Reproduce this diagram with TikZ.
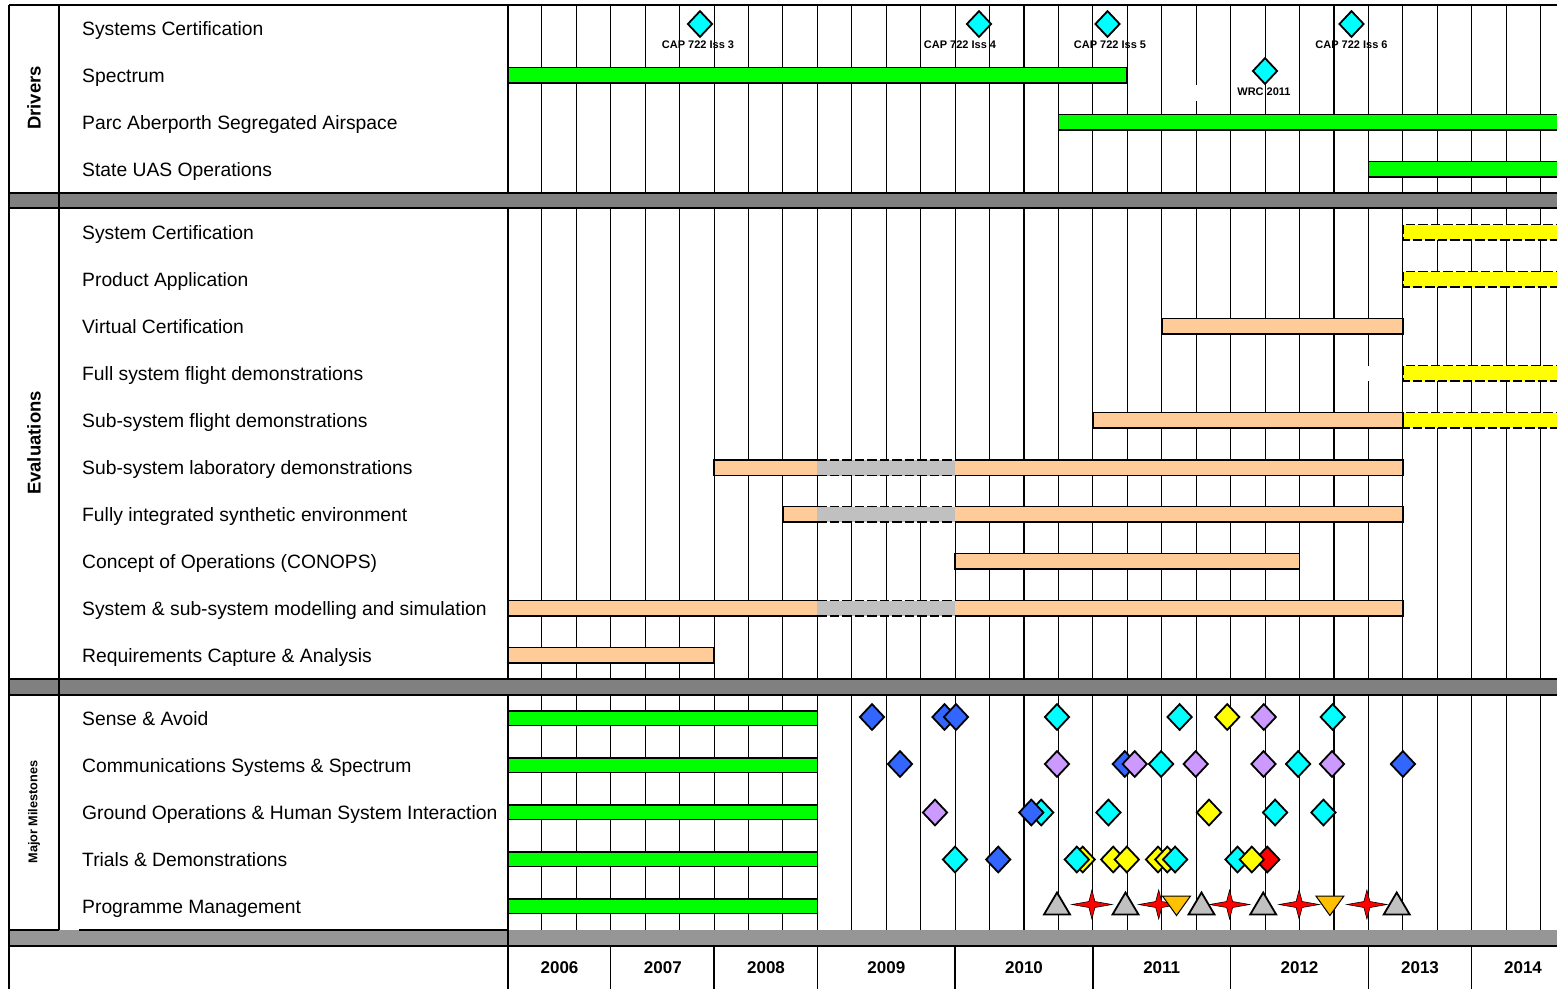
\documentclass[tikz,border=0pt]{standalone}
\usepackage{fontspec}
\setmainfont{Liberation Sans}
\usetikzlibrary{shapes.geometric}
\definecolor{bargreen}{RGB}{0,255,0}
\definecolor{barpeach}{RGB}{255,204,153}
\definecolor{bargrey}{RGB}{192,192,192}
\definecolor{bandgrey}{RGB}{128,128,128}
\definecolor{bandlight}{RGB}{150,150,150}
\definecolor{mscyan}{RGB}{0,255,255}
\definecolor{msblue}{RGB}{51,102,255}
\definecolor{mspurple}{RGB}{204,153,255}
\definecolor{msyellow}{RGB}{255,255,0}
\definecolor{msred}{RGB}{255,0,0}
\definecolor{msorange}{RGB}{255,192,0}

\begin{document}
\begin{tikzpicture}[x=1pt,y=-1pt,
  frame/.style={line width=2pt},
  gridln/.style={line width=1.1pt},
  barline/.style={line width=1.8pt},
  dashedge/.style={line width=1.8pt,dash pattern=on 9.5pt off 3pt},
  rowtext/.style={anchor=base west,inner sep=0pt,font=\fontsize{19.3}{22}\selectfont},
  cattext/.style={rotate=90,inner sep=0pt,font=\bfseries\fontsize{18.5}{20}\selectfont},
  yeartext/.style={inner sep=0pt,font=\bfseries\fontsize{17}{19}\selectfont},
  mstext/.style={inner sep=0pt,font=\bfseries\fontsize{11}{12}\selectfont},
  msd/.style={diamond,draw=black,line width=1.8pt,inner sep=0pt,minimum width=25pt,minimum height=26.5pt}]
\useasboundingbox (0,0) rectangle (1557,989);

\foreach \k in {0,...,30} \draw[gridln] ({507.4+34.44*\k},5) -- ({507.4+34.44*\k},930);
\draw[white,line width=8pt] (1196.2,85) -- (1196.2,101);

\fill[bandgrey] (9,193) rectangle (1560,208); \fill[bandgrey] (9,679) rectangle (1560,695); \fill[bandlight] (9,930) rectangle (1560,946);
\draw[frame] (9,193) -- (1560,193) (9,208) -- (1560,208) (9,679) -- (1560,679) (9,695) -- (1560,695);
\draw[frame] (9,946) -- (1560,946) (9,930) -- (59,930) (79,930) -- (508,930);
\draw[frame] (9,5) -- (1560,5) (9,5) -- (9,989) (59,5) -- (59,930);
\draw[frame] (508,5) -- (508,193) (508,208) -- (508,679) (508,695) -- (508,989);
\foreach \k in {3,6,9,13,17,21,25,28} \draw[line width=1.5pt] ({507.4+34.44*\k},946) -- ({507.4+34.44*\k},989);

\node[cattext] (catdrv) at (34,98) {Drivers};
\node[cattext] (cateval) at (34,443) {Evaluations};
\node[cattext,font=\bfseries\fontsize{12.7}{14}\selectfont] (catmile) at (34,812) {Major Milestones};

\foreach \t [count=\i from 0] in {Systems Certification,Spectrum,Parc Aberporth Segregated Airspace,State UAS Operations}
  \node[rowtext] (drv\i) at (82,{35+47*\i}) {\t};
\foreach \t [count=\i from 0] in {System Certification,Product Application,Virtual Certification,Full system flight demonstrations,Sub-system flight demonstrations,Sub-system laboratory demonstrations,Fully integrated synthetic environment,Concept of Operations (CONOPS),System \& sub-system modelling and simulation,Requirements Capture \& Analysis}
  \node[rowtext] (eval\i) at (82,{239+47*\i}) {\t};
\foreach \t [count=\i from 0] in {Sense \& Avoid,Communications Systems \& Spectrum,Ground Operations \& Human System Interaction,Trials \& Demonstrations,Programme Management}
  \node[rowtext] (mile\i) at (82,{725+47*\i}) {\t};

\foreach \yr/\x in {2006/559.5,2007/662.8,2008/766,2009/886.3,2010/1024,2011/1161.7,2012/1299.5,2013/1420,2014/1523}
  \node[yeartext] (yr\yr) at (\x,968) {\yr};

\draw[barline,fill=bargreen] (508,67.5) rectangle (1127.3,83);
\draw[barline,fill=bargreen] (1058.4,114.5) rectangle (1565,130);
\draw[barline,fill=bargreen] (1368.4,161.5) rectangle (1565,177);

\node[msd,fill=mscyan] (cap3) at (700,24) {}; \node[mstext] (cap3t) at (698,45) {CAP 722 Iss 3};
\node[msd,fill=mscyan] (cap4) at (979,24) {}; \node[mstext] (cap4t) at (960,45) {CAP 722 Iss 4};
\node[msd,fill=mscyan] (cap5) at (1107.5,24) {}; \node[mstext] (cap5t) at (1110,45) {CAP 722 Iss 5};
\node[msd,fill=mscyan] (wrc) at (1265,71) {}; \node[mstext] (wrct) at (1264,91.5) {WRC 2011};
\node[msd,fill=mscyan] (cap6) at (1351.5,24) {}; \node[mstext] (cap6t) at (1351.5,45) {CAP 722 Iss 6};

\foreach \y in {224.5,271.5,365.5,412.5} {
  \fill[msyellow] (1402.8,\y) rectangle (1565,\y+15.5);
  \draw[dashedge] (1565,\y) -- (1402.8,\y) -- (1402.8,\y+15.5) -- (1565,\y+15.5);
}
\fill[white] (1362,365.5) rectangle (1401,381);
\draw[barline,fill=barpeach] (1161.8,318.5) rectangle (1402.8,334);
\draw[barline,fill=barpeach] (1092.9,412.5) rectangle (1402.8,428);
\draw[barline,fill=barpeach] (955.1,553.5) rectangle (1299.5,569);
\draw[barline,fill=barpeach] (508,647.5) rectangle (714,663);
\foreach \a/\y in {714/460,783/506.5,508/600.5} {
  \fill[barpeach] (\a,\y) rectangle (1402.8,\y+15.5);
  \fill[bargrey] (817.4,\y) rectangle (955.1,\y+15.5);
  \draw[barline] (817.4,\y) -| (\a,\y+15.5) -- (817.4,\y+15.5) (955.1,\y) -- (1402.8,\y) -- (1402.8,\y+15.5) -- (955.1,\y+15.5);
  \draw[dashedge] (817.4,\y) -- (955.1,\y) (817.4,\y+15.5) -- (955.1,\y+15.5);
}

\foreach \i in {0,...,4} \draw[barline,fill=bargreen] (508,{711+47*\i}) rectangle (817.4,{725.5+47*\i});

\foreach \x/\y/\c [count=\n] in {872/717/msblue,944.5/717/msblue,956/717/msblue,1057/717/mscyan,1179.6/717/mscyan,1227.2/717/msyellow,1263.8/717/mspurple,1332.7/717/mscyan,
  900/764/msblue,1057/764/mspurple,1124.8/764/msblue,1134.7/764/mspurple,1161.1/764/mscyan,1195.7/764/mspurple,1263.5/764/mspurple,1298.1/764/mscyan,1332/764/mspurple,1402.9/764/msblue,
  935/812.5/mspurple,1041.2/812.5/mscyan,1031.3/812.5/msblue,1108.4/812.5/mscyan,1209/812.5/msyellow,1275.1/812.5/mscyan,1323.4/812.5/mscyan,
  955/859.5/mscyan,998.2/859.5/msblue,1082.7/859.5/msyellow,1076.8/859.5/mscyan,1113.2/859.5/msyellow,1126.8/859.5/msyellow,1158/859.5/msyellow,1167.3/859.5/msyellow,1175.1/859.5/mscyan,1237.5/859.5/mscyan,1267.3/859.5/msred,1251.8/859.5/msyellow}
  \node[msd,fill=\c] (ms\n) at (\x,\y) {};

\foreach \x in {1091.9,1158.7,1229.6,1299.1,1366.9}
  \draw[fill=msred,line width=0.6pt] (\x-20,904.5) -- (\x-3,901.5) -- (\x,890) -- (\x+3,901.5) -- (\x+20,904.5) -- (\x+3,907.5) -- (\x,919) -- (\x-3,907.5) -- cycle;
\foreach \x in {1057,1125.5,1201.5,1263.2,1396.7}
  \draw[fill=bargrey,line width=1.8pt,line join=miter] (\x,892.5) -- (\x+13,914.5) -- (\x-13,914.5) -- cycle;
\foreach \x in {1176.5,1329.9}
  \draw[fill=msorange,line width=1pt] (\x-14,896) -- (\x+14,896) -- (\x,915.5) -- cycle;
\end{tikzpicture}
\end{document}
